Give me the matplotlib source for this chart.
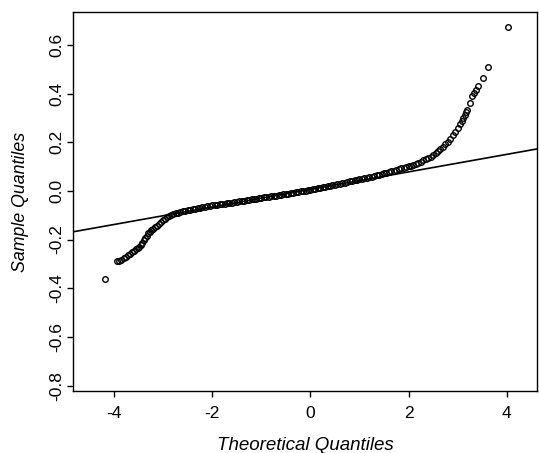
import matplotlib
matplotlib.use('Agg')
import matplotlib.pyplot as plt

# Normal Q-Q plot values
theo_q = [-4.19, -3.95, -3.91, -3.86, -3.80, -3.76, -3.71, -3.67, -3.63, -3.59,
          -3.56, -3.52, -3.49, -3.46, -3.43, -3.40, -3.37, -3.34, -3.31, -3.28,
          -3.24, -3.20, -3.16, -3.12, -3.08, -3.04, -3.00, -2.96, -2.92, -2.88,
          -2.84, -2.80, -2.75, -2.70, -2.65, -2.60, -2.55, -2.50, -2.45, -2.40,
          -2.35, -2.30, -2.25, -2.20, -2.15, -2.10, -2.05, -2.00,
          -1.95, -1.90, -1.85, -1.80, -1.75, -1.70, -1.65, -1.60, -1.55, -1.50,
          -1.45, -1.40, -1.35, -1.30, -1.25, -1.20, -1.15, -1.10, -1.05, -1.00,
          -0.95, -0.90, -0.85, -0.80, -0.75, -0.70, -0.65, -0.60, -0.55, -0.50,
          -0.45, -0.40, -0.35, -0.30, -0.25, -0.20, -0.15, -0.10, -0.05, 0.00,
          0.05, 0.10, 0.15, 0.20, 0.25, 0.30, 0.35, 0.40, 0.45, 0.50,
          0.55, 0.60, 0.65, 0.70, 0.75, 0.80, 0.85, 0.90, 0.95, 1.00,
          1.05, 1.10, 1.15, 1.20, 1.25, 1.30, 1.35, 1.40, 1.45,
          1.50, 1.55, 1.60, 1.65, 1.70, 1.75, 1.80, 1.85, 1.90, 1.95,
          2.00, 2.05, 2.10, 2.15, 2.20, 2.25, 2.30, 2.35, 2.40, 2.45,
          2.50, 2.55, 2.60, 2.65, 2.70, 2.75, 2.80, 2.85, 2.90, 2.95,
          3.00, 3.04, 3.08, 3.12, 3.15, 3.17, 3.19, 3.25, 3.29, 3.33,
          3.37, 3.42, 3.52, 3.63, 4.02]

sample_q = [-0.362, -0.290, -0.287, -0.282, -0.276, -0.271, -0.265, -0.258, -0.253, -0.245,
            -0.240, -0.236, -0.230, -0.222, -0.213, -0.203, -0.194, -0.184, -0.175, -0.168,
            -0.162, -0.156, -0.150, -0.143, -0.136, -0.129, -0.121, -0.114, -0.108, -0.103,
            -0.099, -0.095, -0.092, -0.089, -0.086, -0.083, -0.081, -0.079, -0.077, -0.075,
            -0.073, -0.071, -0.070, -0.068, -0.066, -0.064, -0.062, -0.060,
            -0.058, -0.057, -0.055, -0.054, -0.052, -0.051, -0.049, -0.048, -0.046, -0.045,
            -0.043, -0.042, -0.040, -0.038, -0.037, -0.035, -0.033, -0.032, -0.030, -0.029,
            -0.027, -0.025, -0.024, -0.022, -0.021, -0.019, -0.017, -0.016, -0.014, -0.012,
            -0.011, -0.009, -0.007, -0.006, -0.004, -0.002, -0.001, 0.001, 0.003, 0.005,
            0.007, 0.009, 0.011, 0.013, 0.015, 0.018, 0.020, 0.022, 0.024, 0.026,
            0.028, 0.030, 0.032, 0.034, 0.037, 0.040, 0.042, 0.044, 0.046, 0.048,
            0.050, 0.052, 0.054, 0.057, 0.059, 0.062, 0.064, 0.067, 0.070,
            0.073, 0.075, 0.078, 0.080, 0.083, 0.086, 0.089, 0.092, 0.095, 0.098,
            0.101, 0.104, 0.108, 0.112, 0.116, 0.120, 0.125, 0.130, 0.135, 0.141,
            0.147, 0.154, 0.162, 0.171, 0.180, 0.191, 0.202, 0.215, 0.228, 0.242,
            0.258, 0.274, 0.288, 0.300, 0.312, 0.326, 0.334, 0.360, 0.388, 0.404,
            0.415, 0.429, 0.463, 0.507, 0.675]

# reference line (qqline)
line_intercept = 0.006
line_slope = 0.036

x_ticks = [-4, -2, 0, 2, 4]
y_ticks = [-0.8, -0.6, -0.4, -0.2, 0.0, 0.2, 0.4, 0.6]

plt.rcParams['font.family'] = ['Liberation Sans', 'DejaVu Sans']

fig = plt.figure(figsize=(5.39, 4.53), dpi=100)
ax = fig.add_axes([0.1354, 0.137, 0.861, 0.8365])

ax.plot(theo_q, sample_q, linestyle='none', marker='o', markersize=4,
        markerfacecolor='none', markeredgecolor='black', markeredgewidth=1.0)
ax.axline((0, line_intercept), slope=line_slope, color='black', linewidth=1.2)

ax.set_xlim(-4.84, 4.62)
ax.set_ylim(-0.822, 0.735)
ax.set_xticks(x_ticks)
ax.set_xticklabels([str(t) for t in x_ticks])
ax.set_yticks(y_ticks)
ax.set_yticklabels([f'{t:.1f}' for t in y_ticks], rotation=90, va='center')

ax.tick_params(direction='out', length=4.5, width=1, labelsize=12.5)
ax.tick_params(axis='x', pad=6)
ax.tick_params(axis='y', pad=1.5)
for s in ax.spines.values():
    s.set_linewidth(1)

ax.set_xlabel('Theoretical Quantiles', fontsize=13.5, style='italic', labelpad=12)
ax.set_ylabel('Sample Quantiles', fontsize=12.8, style='italic', labelpad=15)

fig.savefig('out.png', dpi=100)
